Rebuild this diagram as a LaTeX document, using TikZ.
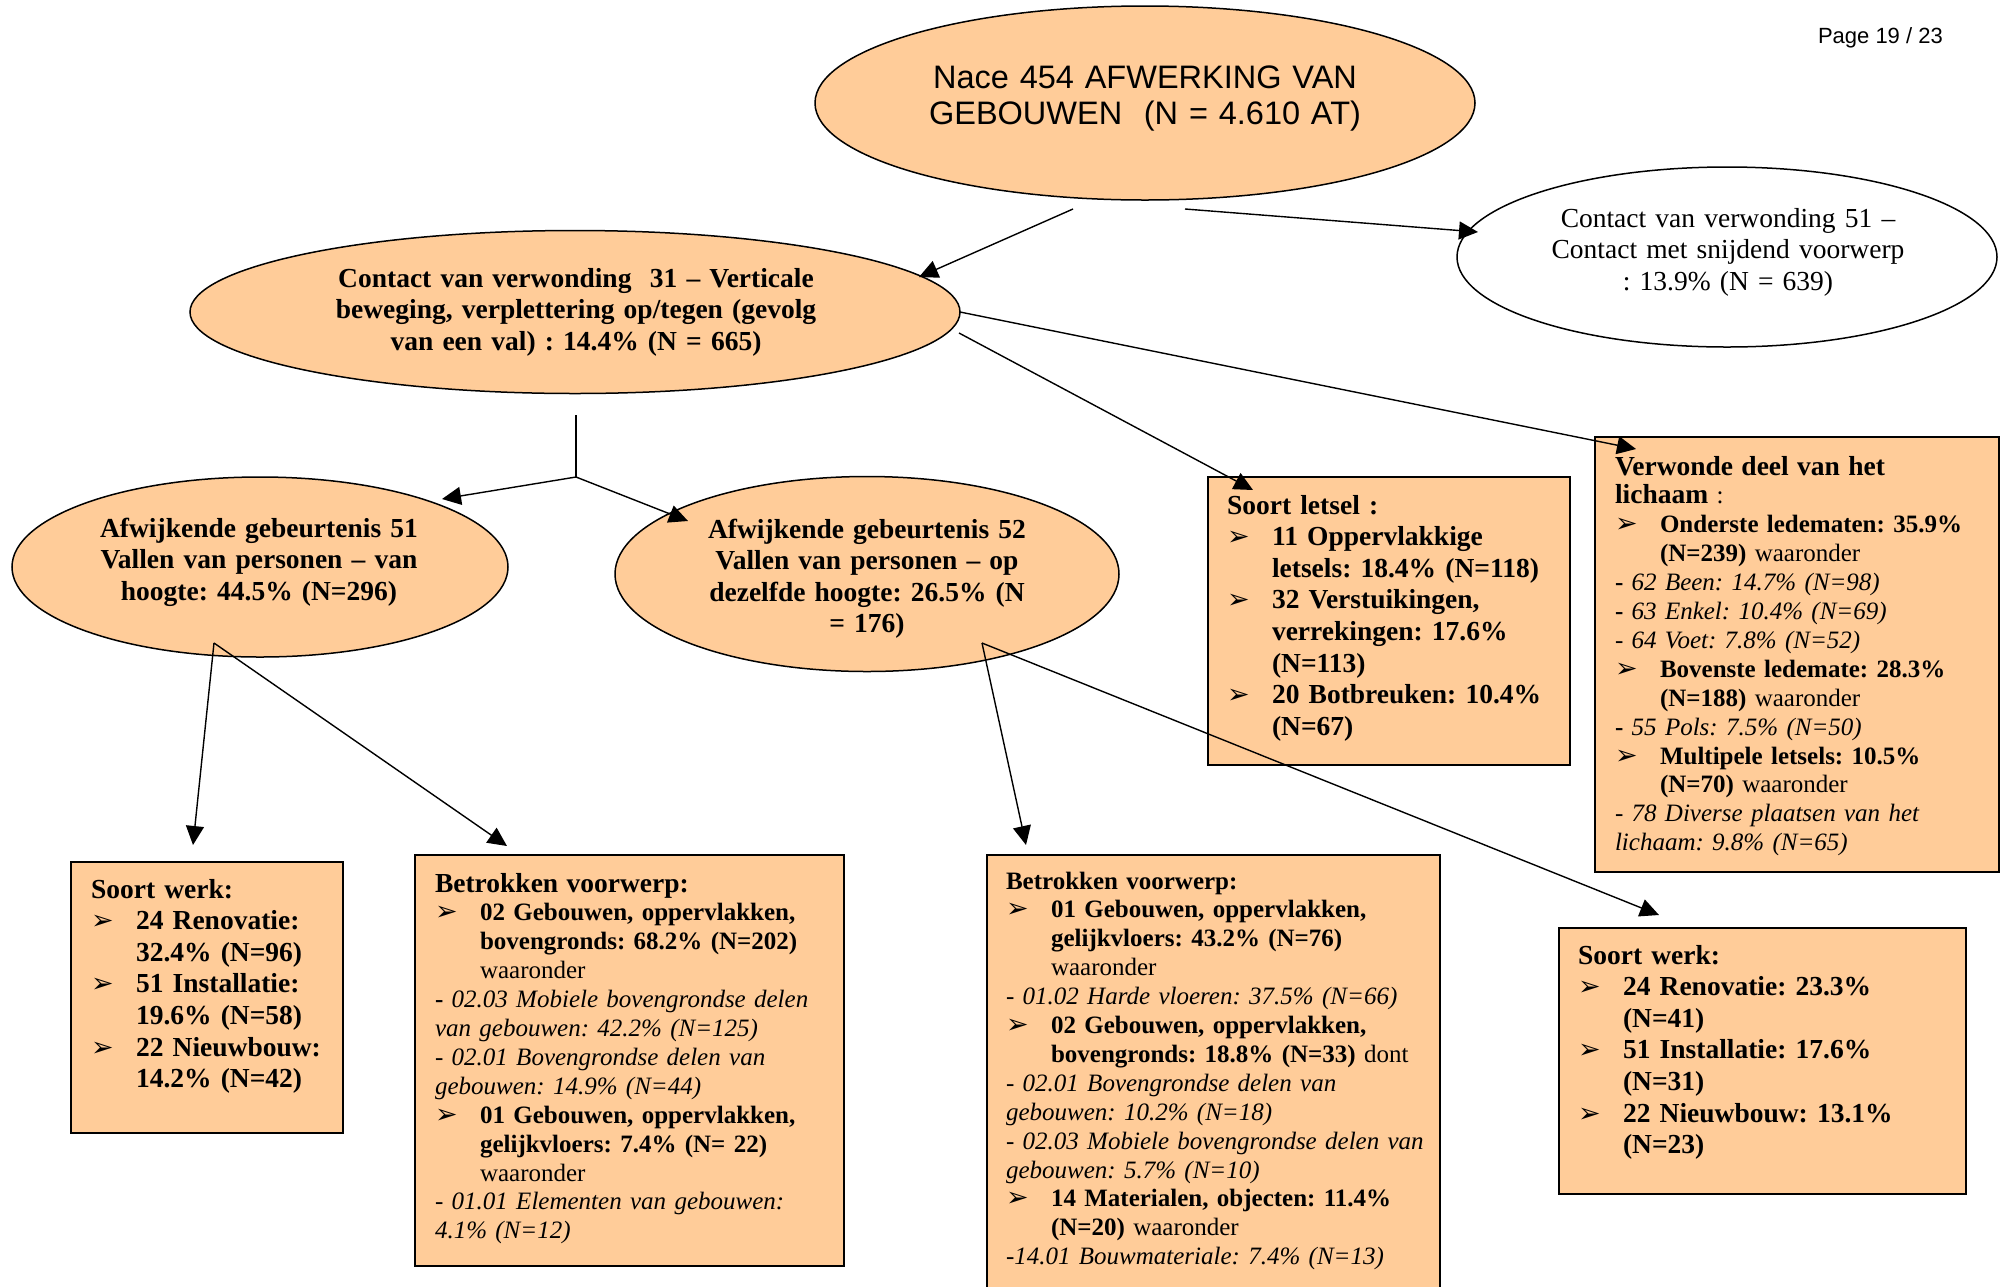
\documentclass[tikz,border=0pt]{standalone}
\usepackage{fontspec}
\setmainfont{Liberation Serif}
\newfontfamily\arialf{Liberation Sans}
\newfontfamily\dejavu{DejaVu Sans}
\usetikzlibrary{arrows.meta,shapes.geometric}
\definecolor{peach}{RGB}{255,204,153}
\frenchspacing
\newcommand{\mybul}{\makebox[45pt][l]{\dejavu\fontsize{27}{27}\selectfont ➢}}
\newcommand{\myind}{\hspace*{45pt}}
\begin{document}
\begin{tikzpicture}[x=1pt,y=-1pt,
  ell/.style={ellipse, draw, line width=1.5pt, inner sep=0pt, outer sep=0pt, fill=peach},
  boxst/.style={rectangle, draw, line width=2pt, fill=peach, inner sep=0pt, outer sep=0pt, anchor=north west},
  txt/.style={inner sep=0pt, outer sep=0pt, anchor=base west, align=left},
  ctxt/.style={inner sep=0pt, outer sep=0pt, anchor=base, align=center},
  big/.style={font=\frenchspacing\fontsize{27.5}{31.6}\selectfont},
  bigb/.style={font=\frenchspacing\fontsize{27.5}{31.6}\selectfont\bfseries},
  small/.style={font=\frenchspacing\fontsize{25}{28.9}\selectfont},
  conn/.style={line width=1.4pt, -{Triangle[length=19pt,width=18pt]}},
  plain/.style={line width=1.4pt}
]
\useasboundingbox (0,0) rectangle (2002,1286);

% page number
\node[inner sep=0pt, anchor=base east, font=\arialf\fontsize{22}{26}\selectfont] (page) at (1943,43) {Page 19 / 23};

% ellipses
\node[ell, minimum width=660pt, minimum height=194pt] (top) at (1145,103) {};
\node[ctxt, text width=640pt, font=\arialf\fontsize{32.5}{36}\selectfont] (topt) at (1145,88)
  {Nace 454 AFWERKING VAN\\GEBOUWEN\ \ (N = 4.610 AT)};

\node[ell, minimum width=770pt, minimum height=163pt] (e31) at (575,312) {};
\node[ctxt, bigb, text width=700pt] (e31t) at (576,287)
  {Contact van verwonding\ \ 31 – Verticale\\beweging, verplettering op/tegen (gevolg\\van een val) : 14.4\% (N = 665)};

\node[ell, fill=white, minimum width=540pt, minimum height=180pt] (e51c) at (1727,257) {};
\node[ctxt, big, text width=500pt] (e51ct) at (1728,227)
  {Contact van verwonding 51 –\\Contact met snijdend voorwerp\\: 13.9\% (N = 639)};

\node[ell, minimum width=496pt, minimum height=180pt] (a51) at (260,567) {};
\node[ctxt, bigb, text width=460pt] (a51t) at (259,537)
  {Afwijkende gebeurtenis 51\\Vallen van personen – van\\hoogte: 44.5\% (N=296)};

\node[ell, minimum width=504pt, minimum height=195pt] (a52) at (867,574) {};
\node[ctxt, bigb, text width=460pt] (a52t) at (867,538)
  {Afwijkende gebeurtenis 52\\Vallen van personen – op\\dezelfde hoogte: 26.5\% (N\\= 176)};

% boxes
\node[boxst, minimum width=362pt, minimum height=288pt] (sl) at (1208,477) {};
\node[txt, bigb, text width=340pt] (slt) at (1227,514)
  {Soort letsel :\\
   \mybul 11 Oppervlakkige\\
   \myind letsels: 18.4\% (N=118)\\
   \mybul 32 Verstuikingen,\\
   \myind verrekingen: 17.6\%\\
   \myind (N=113)\\
   \mybul 20 Botbreuken: 10.4\%\\
   \myind (N=67)};

\node[boxst, minimum width=404pt, minimum height=435pt] (vd) at (1595,437) {};
\node[txt, small, text width=380pt] (vdt) at (1615,475)
  {{\fontsize{27.5}{28.9}\selectfont\bfseries Verwonde deel van het}\\
   {\fontsize{27.5}{28.9}\selectfont\bfseries lichaam} :\\
   \mybul\textbf{Onderste ledematen: 35.9\%}\\
   \myind\textbf{(N=239)} waaronder\\
   \textbf{-} \textit{62 Been: 14.7\% (N=98)}\\
   \textbf{-} \textit{63 Enkel: 10.4\% (N=69)}\\
   \textit{- 64 Voet: 7.8\% (N=52)}\\
   \mybul\textbf{Bovenste ledemate: 28.3\%}\\
   \myind\textbf{(N=188)} waaronder\\
   \textbf{-} \textit{55 Pols: 7.5\% (N=50)}\\
   \mybul\textbf{Multipele letsels: 10.5\%}\\
   \myind\textbf{(N=70)} waaronder\\
   \textit{- 78 Diverse plaatsen van het}\\
   \textit{lichaam: 9.8\% (N=65)}};

\node[boxst, minimum width=272pt, minimum height=271pt] (sw1) at (71,862) {};
\node[txt, bigb, text width=250pt] (sw1t) at (91,898)
  {Soort werk:\\
   \mybul 24 Renovatie:\\
   \myind 32.4\% (N=96)\\
   \mybul 51 Installatie:\\
   \myind 19.6\% (N=58)\\
   \mybul 22 Nieuwbouw:\\
   \myind 14.2\% (N=42)};

\node[boxst, minimum width=429pt, minimum height=411pt] (bv1) at (415,855) {};
\node[txt, small, text width=405pt] (bv1t) at (435,892)
  {{\fontsize{27.5}{28.9}\selectfont\bfseries Betrokken voorwerp:}\\
   \mybul\textbf{02 Gebouwen, oppervlakken,}\\
   \myind\textbf{bovengronds: 68.2\% (N=202)}\\
   \myind waaronder\\
   \textbf{-} \textit{02.03 Mobiele bovengrondse delen}\\
   \textit{van gebouwen: 42.2\% (N=125)}\\
   \textit{- 02.01 Bovengrondse delen van}\\
   \textit{gebouwen: 14.9\% (N=44)}\\
   \mybul\textbf{01 Gebouwen, oppervlakken,}\\
   \myind\textbf{gelijkvloers: 7.4\% (N= 22)}\\
   \myind waaronder\\
   \textit{- 01.01 Elementen van gebouwen:}\\
   \textit{4.1\% (N=12)}};

\node[boxst, minimum width=453pt, minimum height=445pt] (bv2) at (987,855) {};
\node[txt, small, text width=430pt] (bv2t) at (1006,889)
  {\textbf{Betrokken voorwerp:}\\
   \mybul\textbf{01 Gebouwen, oppervlakken,}\\
   \myind\textbf{gelijkvloers: 43.2\% (N=76)}\\
   \myind waaronder\\
   \textit{- 01.02 Harde vloeren: 37.5\% (N=66)}\\
   \mybul\textbf{02 Gebouwen, oppervlakken,}\\
   \myind\textbf{bovengronds: 18.8\% (N=33)} dont\\
   \textit{- 02.01 Bovengrondse delen van}\\
   \textit{gebouwen: 10.2\% (N=18)}\\
   \textit{- 02.03 Mobiele bovengrondse delen van}\\
   \textit{gebouwen: 5.7\% (N=10)}\\
   \mybul\textbf{14 Materialen, objecten: 11.4\%}\\
   \myind\textbf{(N=20)} waaronder\\
   \textit{-14.01 Bouwmateriale: 7.4\% (N=13)}};

\node[boxst, minimum width=407pt, minimum height=266pt] (sw2) at (1559,928) {};
\node[txt, bigb, text width=380pt] (sw2t) at (1578,964)
  {Soort werk:\\
   \mybul 24 Renovatie: 23.3\%\\
   \myind (N=41)\\
   \mybul 51 Installatie: 17.6\%\\
   \myind (N=31)\\
   \mybul 22 Nieuwbouw: 13.1\%\\
   \myind (N=23)};

% connector coordinates
\coordinate (s1) at (1073,209);
\coordinate (t1) at (919,277);
\coordinate (s2) at (1185,209);
\coordinate (t2) at (1478,232);
\coordinate (t3) at (1636,449);
\coordinate (s4) at (959,333);
\coordinate (t4) at (1253,490);
\coordinate (v0) at (576,415);
\coordinate (vj) at (576,477);
\coordinate (ta) at (442,499);
\coordinate (tb) at (688,521);
\coordinate (s5) at (214,643);
\coordinate (t5a) at (193,845);
\coordinate (t5b) at (507,846);
\coordinate (s6) at (982,643);
\coordinate (t6a) at (1026,845);
\coordinate (t6b) at (1659,915);

% connectors
\draw[conn] (s1) -- (t1);
\draw[conn] (s2) -- (t2);
\draw[conn] (e31.east) -- (t3);
\draw[conn] (s4) -- (t4);
\draw[plain] (v0) -- (vj);
\draw[conn] (vj) -- (ta);
\draw[conn] (vj) -- (tb);
\draw[conn] (s5) -- (t5a);
\draw[conn] (s5) -- (t5b);
\draw[conn] (s6) -- (t6a);
\draw[conn] (s6) -- (t6b);
\end{tikzpicture}
\end{document}
